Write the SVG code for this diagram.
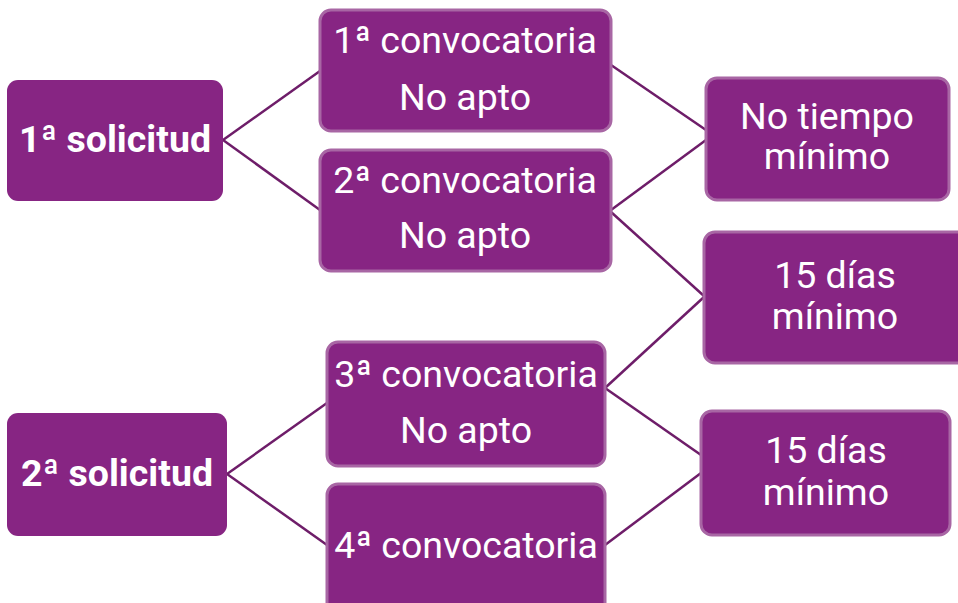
<svg xmlns="http://www.w3.org/2000/svg" width="958" height="603" viewBox="0 0 958 603">
<style>
.box{fill:#872583;stroke:#A866A4;stroke-width:3}
.sol{fill:#872583}
.t{font-family:Roboto,"Liberation Sans",sans-serif;font-size:37.5px;fill:#fff;text-anchor:middle}
.b{font-weight:bold;font-size:37.5px}
.c{stroke:#6E1D69;stroke-width:2.5;fill:none}
</style>
<rect width="958" height="603" fill="#fff"/>
<g id="connectors">
<line class="c" x1="223" y1="140" x2="320" y2="71"/>
<line class="c" x1="223" y1="140" x2="320" y2="210"/>
<line class="c" x1="611" y1="65" x2="706" y2="130"/>
<line class="c" x1="611" y1="210" x2="706" y2="140"/>
<line class="c" x1="611" y1="212" x2="704" y2="296"/>
<line class="c" x1="605" y1="388" x2="704" y2="297"/>
<line class="c" x1="605" y1="388" x2="701" y2="455"/>
<line class="c" x1="605" y1="545" x2="701" y2="473"/>
<line class="c" x1="227" y1="474" x2="327" y2="403"/>
<line class="c" x1="227" y1="474" x2="327" y2="545"/>
</g>
<g id="sol1"><rect class="sol" x="7" y="80" width="216" height="121" rx="11"/><text class="t b" x="115" y="152">1ª solicitud</text></g>
<g id="conv1"><rect class="box" x="320" y="10" width="291" height="121" rx="11"/><text class="t" x="465" y="53">1ª convocatoria</text><text class="t" x="465" y="110">No apto</text></g>
<g id="conv2"><rect class="box" x="320" y="150" width="291" height="121" rx="11"/><text class="t" x="465" y="193">2ª convocatoria</text><text class="t" x="465" y="248">No apto</text></g>
<g id="notiempo"><rect class="box" x="706" y="78" width="243" height="122" rx="11"/><text class="t" x="827" y="129">No tiempo</text><text class="t" x="827" y="169">mínimo</text></g>
<g id="dias1"><rect class="box" x="704" y="232" width="264" height="131" rx="11"/><text class="t" x="835" y="288">15 días</text><text class="t" x="835" y="329">mínimo</text></g>
<g id="sol2"><rect class="sol" x="7" y="413" width="220" height="123" rx="11"/><text class="t b" x="117" y="486">2ª solicitud</text></g>
<g id="conv3"><rect class="box" x="327" y="342" width="278" height="124" rx="11"/><text class="t" x="466" y="387">3ª convocatoria</text><text class="t" x="466" y="443">No apto</text></g>
<g id="conv4"><rect class="box" x="327" y="484" width="278" height="135" rx="11"/><text class="t" x="466" y="558">4ª convocatoria</text></g>
<g id="dias2"><rect class="box" x="701" y="411" width="249" height="124" rx="11"/><text class="t" x="826" y="463">15 días</text><text class="t" x="826" y="505">mínimo</text></g>
</svg>
